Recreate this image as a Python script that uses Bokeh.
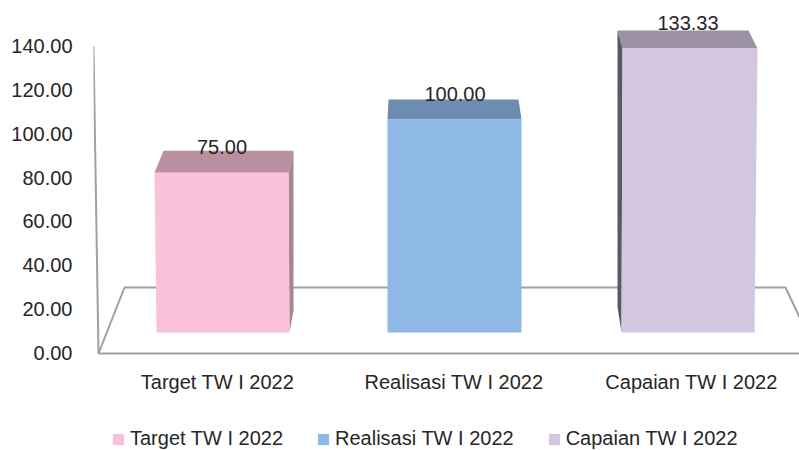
from bokeh.plotting import figure
from bokeh.models import Range1d, LinearAxis, FixedTicker, NumeralTickFormatter, Legend, LegendItem, ColumnDataSource
from bokeh.core.properties import value
from bokeh.embed import file_html
from bokeh.resources import INLINE

categories = ["Target TW I 2022", "Realisasi TW I 2022", "Capaian TW I 2022"]
values = [75.00, 100.00, 133.33]
labels = ["75.00", "100.00", "133.33"]
y_ticks = [0, 20, 40, 60, 80, 100, 120, 140]

front_colors = ["#F9C2DA", "#8EB8E6", "#D2C6E0"]
top_colors = ["#B98FA2", "#6D8CB2", "#9C91A7"]
side_colors = ["#A98497", "#6D8CB2", "#5D5668"]

FONT = "Liberation Sans"
FS = "20px"
GRAY = "#A0A0A0"

# one category step is 233px on the x scale, one value unit is 2.13px for bars
XU = 233.0
YU = 2.13
half_w = [67.0, 67.0, 67.5]
shift = [-0.5, -0.5, 2.0]       # front-face centre offset in px
base_l = [2.0, 0.0, -1.0]       # bottom edge of the front face vs its top edge, px
base_r = [1.0, 0.0, -3.0]
back_l = [9.0, 1.0, -5.0]       # back edge offset from front edge, left, px
back_r = [5.0, -3.0, -9.0]      # back edge offset from front edge, right, px
depth = [22.0, 20.0, 18.0]      # rise of the top face, px
cat_shift = [-4.5, -1.0, 3.5]   # category label offset from the step, px

p = figure(width=799, height=450, output_backend="svg", toolbar_location=None,
           x_range=Range1d(-128.5 / XU, 577.5 / XU),
           y_range=Range1d(-118 / YU, 332 / YU),
           min_border_left=93, min_border_right=0, min_border_top=0, min_border_bottom=0,
           outline_line_color=None)
p.background_fill_color = None
p.border_fill_color = None
p.grid.visible = False
p.xaxis.visible = False
p.yaxis.visible = False

# value axis, its own scale
p.extra_y_ranges = {"ticks": Range1d(-98 / 2.186, 352 / 2.186)}
ya = LinearAxis(y_range_name="ticks", ticker=FixedTicker(ticks=y_ticks),
                formatter=NumeralTickFormatter(format="0.00"))
ya.axis_line_color = None
ya.major_tick_line_color = None
ya.minor_tick_line_color = None
ya.major_label_standoff = 15
ya.major_label_text_font = FONT
ya.major_label_text_font_size = FS
ya.major_label_text_color = "#262626"
p.add_layout(ya, "left")

# wall and floor of the 3D box
wall_x = [-128.5 / XU, -123.5 / XU]
p.line(wall_x, [286 / YU, -21 / YU], line_color=GRAY, line_width=2)
p.line([-123.5 / XU, 580 / XU], [-21 / YU, -21 / YU], line_color=GRAY, line_width=2)
p.line([-123.5 / XU, -97.5 / XU, 563.5 / XU, 580 / XU],
       [-21 / YU, 45 / YU, 45 / YU, 10 / YU], line_color=GRAY, line_width=2)

items = []
for i, v in enumerate(values):
    l = i + (shift[i] - half_w[i]) / XU
    r = i + (shift[i] + half_w[i]) / XU
    bl, br = l + back_l[i] / XU, r + back_r[i] / XU
    fl, fr = l + base_l[i] / XU, r + base_r[i] / XU
    d = depth[i] / YU
    # top face
    p.patch([l, bl, br, r], [v, v + d, v + d, v], fill_color=top_colors[i], line_color=None)
    # side face (right for the first bar, left for the third)
    if i == 0:
        p.patch([r, br, br, fr], [v, v + d, d, 0], fill_color=side_colors[i], line_color=None)
    if i == 2:
        p.patch([l, bl, bl, fl], [v, v + d, 12, 0], fill_color=side_colors[i], line_color=None)
    # front face
    q = p.patch([l, r, fr, fl], [v, v, 0, 0], fill_color=front_colors[i], line_color=None)
    items.append(LegendItem(label=categories[i], renderers=[q]))

src = ColumnDataSource(dict(x=[0, 1, 2], y=values, t=labels))
p.text("x", "y", text="t", source=src, text_align="center", text_baseline="middle", y_offset=-26,
       text_font=value(FONT), text_font_size=value(FS), text_color="#262626")

cat_src = ColumnDataSource(dict(x=[i + cat_shift[i] / XU for i in range(3)], y=[0, 0, 0], t=categories))
p.text("x", "y", text="t", source=cat_src, text_align="center", text_baseline="middle", y_offset=49,
       text_font=value(FONT), text_font_size=value(FS), text_color="#262626")

lg = Legend(items=items, orientation="horizontal", location=(18, 0), border_line_color=None,
            background_fill_alpha=0, margin=0, padding=0, spacing=33,
            glyph_width=14, glyph_height=14, label_standoff=5,
            label_text_font=FONT, label_text_font_size=FS, label_text_color="#262626")
p.add_layout(lg, "center")

open("out.html", "w").write(file_html(p, INLINE))
